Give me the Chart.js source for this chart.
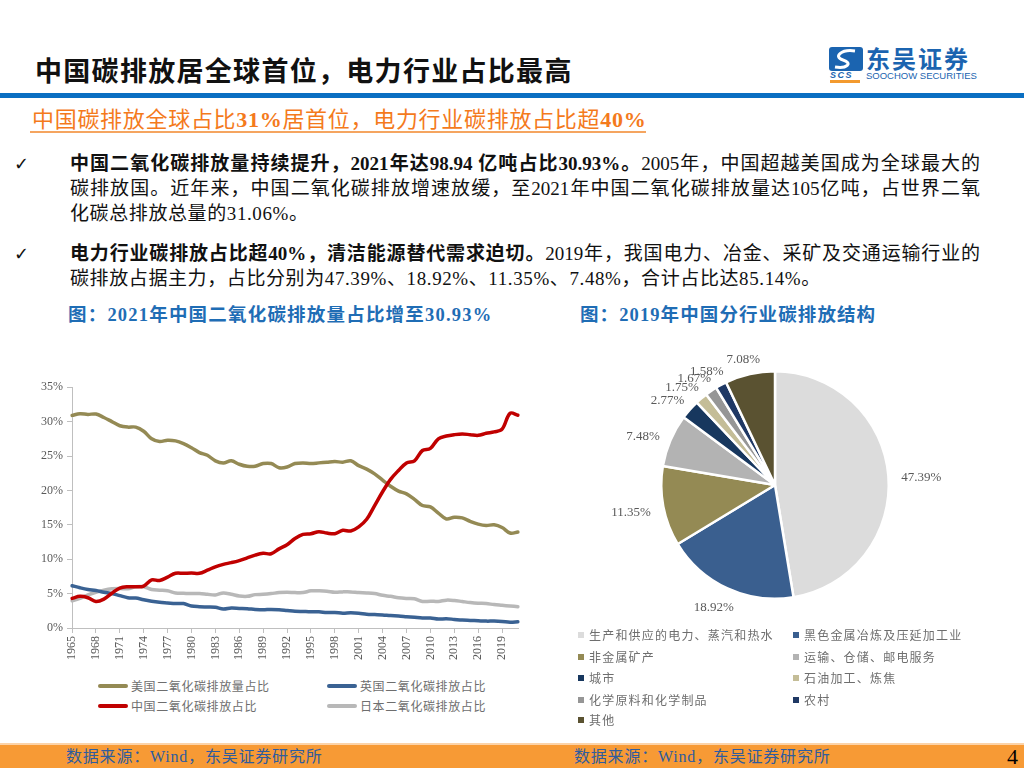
<!DOCTYPE html>
<html><head><meta charset="utf-8">
<script src="https://cdn.jsdelivr.net/npm/chart.js@4.4.1/dist/chart.umd.min.js"></script>
<style>
body{margin:0;width:1024px;height:768px;position:relative;background:#fff;overflow:hidden;font-family:"Liberation Serif","Noto Sans CJK SC",serif;}
.abs{position:absolute;white-space:nowrap;}
.line{position:absolute;left:70px;width:910px;height:25px;line-height:25px;font-size:19px;color:#111;white-space:nowrap;}
.just{text-align:justify;text-align-last:justify;white-space:normal;}
.sp{letter-spacing:0.6px;}
b{font-weight:bold;}
.leg{position:absolute;font-family:"Noto Sans CJK SC";font-size:12px;color:#6e6e6e;letter-spacing:0.6px;white-space:nowrap;line-height:16px;}
</style></head>
<body>
<!-- header -->
<div class="abs" style="left:35px;top:51px;font-family:'Noto Sans CJK SC';font-weight:bold;font-size:27px;line-height:38px;letter-spacing:1.3px;color:#111;">中国碳排放居全球首位，电力行业占比最高</div>
<svg class="abs" style="left:829px;top:47px" width="34" height="24" viewBox="0 0 34 24">
<rect x="0" y="0" width="34" height="24" rx="3" fill="#1b64b0"/>
<path d="M26 4 C12 2 4 10 14 13 C24 16 18 22 6 20" stroke="#fff" stroke-width="3" fill="none"/>
</svg>
<div class="abs" style="left:866px;top:44px;font-family:'Noto Sans CJK SC';font-weight:bold;font-size:24px;line-height:28px;letter-spacing:2px;color:#1b64b0;">东吴证券</div>
<div class="abs" style="left:830px;top:71px;font-family:'Liberation Sans';font-weight:bold;font-style:italic;font-size:9px;line-height:9px;color:#1b64b0;letter-spacing:1.5px;">SCS</div>
<div class="abs" style="left:830px;top:80px;width:30px;height:3px;background:#f39a2e;"></div>
<div class="abs" style="left:866px;top:71px;font-family:'Liberation Sans';font-size:9.5px;line-height:10px;color:#1b64b0;">SOOCHOW SECURITIES</div>
<div class="abs" style="left:0;top:93px;width:1024px;height:5px;background:#0a6fc2;"></div>

<div class="abs" style="left:32px;top:106px;font-family:'Liberation Serif','Noto Sans CJK SC';font-size:22px;line-height:28px;letter-spacing:0.7px;color:#f47a1c;">中国碳排放全球占比<b>31%</b>居首位，电力行业碳排放占比超<b>40%</b></div>
<div class="abs" style="left:30px;top:131px;width:616px;height:1.5px;background:#f5a560;"></div>

<!-- bullets -->
<div class="abs" style="left:14px;top:151px;font-family:'DejaVu Sans';font-weight:bold;font-size:18px;line-height:25px;color:#111;">✓</div>
<div class="line just" style="top:151px;"><b>中国二氧化碳排放量持续提升，2021年达98.94 亿吨占比30.93%。</b>2005年，中国超越美国成为全球最大的</div>
<div class="line just" style="top:176px;">碳排放国。近年来，中国二氧化碳排放增速放缓，至2021年中国二氧化碳排放量达105亿吨，占世界二氧</div>
<div class="line sp" style="top:201px;">化碳总排放总量的31.06%。</div>
<div class="abs" style="left:14px;top:241px;font-family:'DejaVu Sans';font-weight:bold;font-size:18px;line-height:25px;color:#111;">✓</div>
<div class="line just" style="top:241px;"><b>电力行业碳排放占比超40%，清洁能源替代需求迫切。</b>2019年，我国电力、冶金、采矿及交通运输行业的</div>
<div class="line sp" style="top:266px;">碳排放占据主力，占比分别为47.39%、18.92%、11.35%、7.48%，合计占比达85.14%。</div>

<!-- captions -->
<div class="abs" style="left:68px;top:303px;font-size:18.5px;line-height:24px;font-weight:bold;color:#1f6db5;letter-spacing:1.2px;">图：2021年中国二氧化碳排放量占比增至30.93%</div>
<div class="abs" style="left:580px;top:303px;font-size:18.5px;line-height:24px;font-weight:bold;color:#1f6db5;letter-spacing:1.1px;">图：2019年中国分行业碳排放结构</div>

<!-- charts -->
<div class="abs" style="left:20px;top:376px;width:510px;height:297px;"><canvas id="lineChart"></canvas></div>
<div id="lineLegend"></div>
<div class="abs" style="left:575px;top:335px;width:400px;height:300px;"><canvas id="pieChart"></canvas></div>
<div id="pieLegend"></div>

<!-- footer -->
<div class="abs" style="left:0;top:743px;width:1024px;height:2px;background:#fcd3a8;"></div>
<div class="abs" style="left:0;top:745px;width:1024px;height:23px;background:#f79a35;"></div>
<div class="abs" style="left:66px;top:746px;font-size:16px;line-height:22px;letter-spacing:0.8px;color:#2f5c9e;">数据来源：Wind，东吴证券研究所</div>
<div class="abs" style="left:574px;top:746px;font-size:16px;line-height:22px;letter-spacing:0.8px;color:#2f5c9e;">数据来源：Wind，东吴证券研究所</div>
<div class="abs" style="left:1007px;top:744px;font-size:22px;line-height:26px;color:#000;">4</div>

<script>
const years = ['1965','1966','1967','1968','1969','1970','1971','1972','1973','1974','1975','1976','1977','1978','1979','1980','1981','1982','1983','1984','1985','1986','1987','1988','1989','1990','1991','1992','1993','1994','1995','1996','1997','1998','1999','2000','2001','2002','2003','2004','2005','2006','2007','2008','2009','2010','2011','2012','2013','2014','2015','2016','2017','2018','2019','2020','2021'];
const xTickLabels = ['1965','1968','1971','1974','1977','1980','1983','1986','1989','1992','1995','1998','2001','2004','2007','2010','2013','2016','2019'];
const yTicks = [0,5,10,15,20,25,30,35];

const usShare = [30.9,31.15,31.05,31.1,30.6,30.0,29.4,29.2,29.2,28.6, 27.5,27.1,27.3,27.2,26.8,26.2,25.5,25.1,24.3,24.0, 24.3,23.8,23.5,23.5,23.9,23.9,23.3,23.4,23.9,24.0, 23.9,24.0,24.1,24.2,24.1,24.3,23.6,23.1,22.4,21.5, 20.6,19.9,19.5,18.7,17.8,17.6,16.7,15.85,16.1,16.0, 15.5,15.1,14.9,15.0,14.6,13.8,13.95];
const ukShare = [6.15,5.85,5.6,5.45,5.2,5.0,4.7,4.4,4.35,4.1, 3.9,3.75,3.65,3.55,3.55,3.2,3.1,3.05,3.0,2.75, 2.9,2.85,2.8,2.7,2.65,2.7,2.65,2.55,2.45,2.4, 2.35,2.35,2.25,2.25,2.15,2.2,2.15,2.0,1.95,1.9, 1.8,1.75,1.65,1.55,1.45,1.45,1.3,1.35,1.25,1.15, 1.1,1.05,1.0,1.0,0.95,0.85,0.9];
const chinaShare = [4.3,4.6,4.4,3.85,4.2,5.05,5.8,6.0,6.0,6.1, 7.0,6.9,7.4,7.95,7.95,8.0,7.95,8.4,8.9,9.25, 9.5,9.8,10.2,10.6,10.85,10.8,11.5,12.1,13.0,13.6, 13.7,14.0,13.8,13.7,14.2,14.1,14.7,15.8,17.8,19.8, 21.6,22.9,24.0,24.3,25.8,26.1,27.5,27.9,28.1,28.2, 28.1,28.0,28.3,28.5,28.9,31.2,30.93];
const japanShare = [3.95,4.3,4.8,5.2,5.5,5.7,5.75,5.7,6.0,6.0, 5.6,5.5,5.4,5.1,5.05,5.0,5.0,4.9,4.8,5.1, 4.9,4.65,4.6,4.85,4.9,5.0,5.15,5.2,5.15,5.15, 5.4,5.4,5.35,5.2,5.25,5.25,5.15,5.1,5.0,4.75, 4.6,4.4,4.3,4.25,3.85,3.9,3.85,4.05,4.0,3.85, 3.7,3.6,3.55,3.4,3.3,3.2,3.1];

const seriesNames = ['美国二氧化碳排放量占比','英国二氧化碳排放占比','中国二氧化碳排放占比','日本二氧化碳排放占比'];
const seriesColors = ['#948a54','#3a6293','#c00000','#b8b8b8'];
const seriesData = [usShare, ukShare, chinaShare, japanShare];

const pieCategories = ['生产和供应的电力、蒸汽和热水','黑色金属冶炼及压延加工业','非金属矿产','运输、仓储、邮电服务','城市','石油加工、炼焦','化学原料和化学制品','农村','其他'];
const pieValues = [47.39,18.92,11.35,7.48,2.77,1.75,1.67,1.58,7.08];
const pieColors = ['#dcdcdc','#3a5f8f','#948a54','#b3b3b3','#17375e','#c4bd97','#969696','#1f3864','#5a5231'];

// line chart
new Chart(document.getElementById('lineChart'), {
  type:'line',
  data:{
    labels: years,
    datasets: seriesData.map((d,i)=>({
      label: seriesNames[i], data: d, borderColor: seriesColors[i], backgroundColor: seriesColors[i],
      borderWidth: 3.5, pointRadius: 0, tension: 0.35, fill:false, borderCapStyle:'round', borderJoinStyle:'round',
      order: i===2 ? 0 : (i===0 ? 1 : 2)
    }))
  },
  options:{
    responsive:true, maintainAspectRatio:false, animation:false,
    layout:{padding:{top:10,right:12,left:0,bottom:0}},
    plugins:{legend:{display:false}, tooltip:{enabled:false}},
    scales:{
      x:{
        type:'category', offset:false,
        grid:{display:true, drawOnChartArea:false, drawTicks:true, tickLength:5, color:'#bfbfbf'},
        border:{display:true, color:'#bfbfbf', width:1},
        ticks:{autoSkip:false, maxRotation:90, minRotation:90, padding:3, color:'#595959',
          font:{family:'Liberation Serif', size:12},
          callback:(v,i)=> xTickLabels.includes(years[i]) ? years[i] : null},
        afterFit:(a)=>{a.height=45;}
      },
      y:{
        min:0, max:35,
        afterBuildTicks:(a)=>{a.ticks = yTicks.map(v=>({value:v}));},
        grid:{display:true, drawOnChartArea:false, drawTicks:true, tickLength:5, color:'#bfbfbf'},
        border:{display:true, color:'#bfbfbf', width:1},
        ticks:{color:'#595959', padding:4, font:{family:'Liberation Serif', size:12}, callback:(v)=>v+'%'},
        afterFit:(a)=>{a.width=52;}
      }
    }
  }
});

// line legend (HTML)
(function(){
  const pos = [[98,686],[327,686],[98,706],[327,706]];
  let html='';
  seriesNames.forEach((n,k)=>{
    const [x,y]=pos[k];
    html += `<div class="abs" style="left:${x}px;top:${y-2}px;width:30px;height:4px;border-radius:2px;background:${seriesColors[k]}"></div>`;
    html += `<div class="leg" style="left:${x+33}px;top:${y-8}px;">${n}</div>`;
  });
  document.getElementById('lineLegend').innerHTML = html;
})();

// pie labels plugin
const pieLabelPlugin = {
  id:'pieLabels',
  afterDatasetsDraw(chart){
    const ctx = chart.ctx;
    const meta = chart.getDatasetMeta(0);
    ctx.save();
    ctx.font = '13px "Liberation Serif"';
    ctx.fillStyle = '#595959';
    ctx.textAlign = 'center';
    ctx.textBaseline = 'middle';
    meta.data.forEach((arc,i)=>{
      const p = arc.getProps(['x','y','startAngle','endAngle','outerRadius'], true);
      const mid = (p.startAngle + p.endAngle)/2;
      const dx = Math.cos(mid), dy = Math.sin(mid);
      const txt = pieValues[i].toFixed(2) + '%';
      const w = ctx.measureText(txt).width;
      const ax = p.x + dx*(p.outerRadius+10), ay = p.y + dy*(p.outerRadius+10);
      ctx.fillText(txt, ax + dx*(w/2+3), ay + dy*8 + 3);
    });
    ctx.restore();
  }
};

new Chart(document.getElementById('pieChart'), {
  type:'pie',
  data:{labels:pieCategories, datasets:[{data:pieValues, backgroundColor:pieColors, borderColor:'#ffffff', borderWidth:2.5}]},
  options:{
    responsive:true, maintainAspectRatio:false, animation:false,
    layout:{padding:35},
    plugins:{legend:{display:false}, tooltip:{enabled:false}}
  },
  plugins:[pieLabelPlugin]
});

// pie legend (HTML)
(function(){
  const colsX = [578, 793];
  const rowsY = [635, 657, 678, 700, 720];
  let html='';
  pieCategories.forEach((c,i)=>{
    const x = colsX[i%2], y = rowsY[Math.floor(i/2)];
    html += `<div class="abs" style="left:${x}px;top:${y-3}px;width:6px;height:6px;background:${pieColors[i]}"></div>`;
    html += `<div class="leg" style="left:${x+11}px;top:${y-8}px;letter-spacing:1.2px;">${c}</div>`;
  });
  document.getElementById('pieLegend').innerHTML = html;
})();
</script>
</body></html>
